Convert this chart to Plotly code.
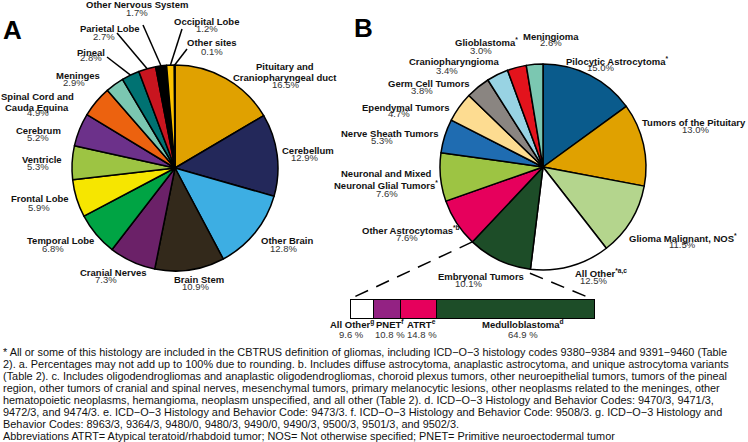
import math
import plotly.graph_objects as go

W, H = 748, 442

# ---------------- data ----------------
labels_A = ["Pituitary and<br>Craniopharyngeal duct", "Cerebellum", "Other Brain", "Brain Stem",
            "Cranial Nerves", "Temporal Lobe", "Frontal Lobe", "Ventricle", "Cerebrum",
            "Spinal Cord and<br>Cauda Equina", "Meninges", "Pineal", "Parietal Lobe",
            "Other Nervous System", "Occipital Lobe", "Other sites"]
values_A = [16.5, 12.9, 12.8, 10.9, 7.3, 6.8, 5.9, 5.3, 5.2, 4.9, 2.9, 2.8, 2.7, 1.7, 1.2, 0.1]

labels_B = ["Pilocytic Astrocytoma<sup>*</sup>", "Tumors of the Pituitary", "Glioma Malignant, NOS<sup>*</sup>",
            "All Other<sup>*a,c</sup>", "Embryonal Tumors", "Other Astrocytomas<sup>*b</sup>",
            "Neuronal and Mixed<br>Neuronal Glial Tumors<sup>*</sup>", "Nerve Sheath Tumors",
            "Ependymal Tumors", "Germ Cell Tumors", "Craniopharyngioma", "Glioblastoma<sup>*</sup>",
            "Meningioma"]
values_B = [15.0, 13.0, 11.5, 12.5, 10.1, 7.6, 7.6, 5.3, 4.7, 3.8, 3.4, 3.0, 2.6]

labels_E = ["All Other<sup>g</sup>", "PNET<sup>f</sup>", "ATRT<sup>e</sup>", "Medulloblastoma<sup>d</sup>"]
values_E = [9.6, 10.8, 14.8, 64.9]

footnote_lines = [
    "* All or some of this histology are included in the CBTRUS definition of gliomas, including ICD\u2212O\u22123 histology codes 9380\u22129384 and 9391\u22129460 (Table",
    "2). a. Percentages may not add up to 100% due to rounding. b. Includes diffuse astrocytoma, anaplastic astrocytoma, and unique astrocytoma variants",
    "(Table 2). c. Includes oligodendrogliomas and anaplastic oligodendrogliomas, choroid plexus tumors, other neuroepithelial tumors, tumors of the pineal",
    "region, other tumors of cranial and spinal nerves, mesenchymal tumors, primary melanocytic lesions, other neoplasms related to the meninges, other",
    "hematopoietic neoplasms, hemangioma, neoplasm unspecified, and all other (Table 2). d. ICD\u2212O\u22123 Histology and Behavior Codes: 9470/3, 9471/3,",
    "9472/3, and 9474/3. e. ICD\u2212O\u22123 Histology and Behavior Code: 9473/3. f. ICD\u2212O\u22123 Histology and Behavior Code: 9508/3. g. ICD\u2212O\u22123 Histology and",
    "Behavior Codes: 8963/3, 9364/3, 9480/0, 9480/3, 9490/0, 9490/3, 9500/3, 9501/3, and 9502/3.",
    "Abbreviations ATRT= Atypical teratoid/rhabdoid tumor; NOS= Not otherwise specified; PNET= Primitive neuroectodermal tumor",
]

# ---------------- styles / layout ----------------
colors_A = ["#e0a100", "#23285a", "#3daee3", "#33291b", "#6b2168", "#00a444", "#f6e600", "#9dc443",
            "#6c318a", "#ec620f", "#7bc7b1", "#007272", "#c9151f", "#000000", "#fdc300", "#ffffff"]
colors_B = ["#0a5b8c", "#e0a100", "#b4d58d", "#ffffff", "#1d4d28", "#e6005c", "#9dc443", "#1f6cb1",
            "#fddc91", "#8a8581", "#98d3e3", "#e3131c", "#7bc7b1"]
colors_E = ["#ffffff", "#932283", "#e6005c", "#1d4d28"]

FONT = "Liberation Sans, Arial, sans-serif"
NAME_SIZE = 9.5
PCT_SIZE = 9.5
LINE_GAP = 11.3
FOOT_SIZE = 10.9

# pie geometry in pixels (center x, center y, radius)
PIE_A = (175, 168, 103)
PIE_B = (543, 167, 103)

# label placement in pixels: name x, first-line y, pct x, pct y, leader start (optional)
place_A = [
    (285, 66, 285, 85, None), (308, 150, 304, 157, None), (287, 241, 283, 248, None),
    (199, 279, 195, 286, None), (113, 272, 106, 279, None), (60, 241, 53, 248, None),
    (40, 199, 39, 207, None), (42, 159, 38, 166, None), (38, 130, 38, 137, None),
    (37, 96, 38, 113, None), (78, 75, 74, 82, None), (91, 52, 91, 58, (107, 57)),
    (110, 29, 104, 36, (117, 33)), (137, 5, 137, 12, (143, 25)),
    (206, 21, 207, 28, (182, 29)), (212, 43, 212, 51, (187, 49)),
]
place_B = [
    (617, 61, 600, 67), (694, 122, 695, 129), (683, 238, 682, 244), (601, 273, 593, 280),
    (481, 276, 469, 283), (411, 230, 407, 237), (386, 174, 387, 193), (390, 133, 382, 140),
    (406, 107, 399, 114), (429, 83, 422, 91), (454, 62, 447, 70), (486, 42, 481, 50),
    (551, 36, 551, 43),
]

BAR_X = (351, 595)   # pixel extent of the expanded bar
BAR_Y = (300, 319)
PAD = 3              # pixel padding around the bar inside its axes (so outlines are not clipped)


def px(x):
    return x / W


def py(y):
    return 1 - y / H


def edge_point(pie, frac, k=1.0):
    cx, cy, r = pie
    a = 2 * math.pi * frac
    return cx + k * r * math.sin(a), cy - k * r * math.cos(a)


def pie_domain(pie):
    cx, cy, r = pie
    return dict(x=[px(cx - r), px(cx + r)], y=[py(cy + r), py(cy - r)])


fig = go.Figure()
for labels, values, colors, pie in [(labels_A, values_A, colors_A, PIE_A), (labels_B, values_B, colors_B, PIE_B)]:
    fig.add_trace(go.Pie(
        labels=[l.replace("<br>", " ") for l in labels], values=values, sort=False,
        direction="clockwise", rotation=0, textinfo="none", showlegend=False,
        marker=dict(colors=colors, line=dict(color="black", width=1.5)),
        domain=pie_domain(pie), hoverinfo="label+value",
    ))

# expanded embryonal bar (stacked)
for lab, val, col in zip(labels_E, values_E, colors_E):
    fig.add_trace(go.Bar(
        x=[val], y=[0], orientation="h", width=1,
        marker=dict(color=col, line=dict(color="black", width=1.5)),
        showlegend=False, hoverinfo="x", xaxis="x", yaxis="y",
    ))
total_E = sum(values_E)
ux = total_E / (BAR_X[1] - BAR_X[0])
uy = 1.0 / (BAR_Y[1] - BAR_Y[0])

annotations = []
shapes = []


def add_label(name, pct, nx, ny, pxx, pyy):
    for i, line in enumerate(name.split("<br>")):
        annotations.append(dict(
            x=px(nx), y=py(ny + i * LINE_GAP), xref="paper", yref="paper", text="<b>%s</b>" % line,
            showarrow=False, xanchor="center", yanchor="middle",
            font=dict(family=FONT, size=NAME_SIZE, color="#111111")))
    annotations.append(dict(
        x=px(pxx), y=py(pyy), xref="paper", yref="paper", text=pct, showarrow=False,
        xanchor="center", yanchor="middle", font=dict(family=FONT, size=PCT_SIZE, color="#333333")))


cum = 0
for lab, val, p in zip(labels_A, values_A, place_A):
    nx, ny, pxx, pyy, lead = p
    add_label(lab, "%.1f%%" % val, nx, ny, pxx, pyy)
    mid = (cum + val / 2) / sum(values_A)
    if lead is not None:
        ex, ey = edge_point(PIE_A, mid)
        shapes.append(dict(type="line", xref="paper", yref="paper", x0=px(lead[0]), y0=py(lead[1]),
                           x1=px(ex), y1=py(ey), line=dict(color="black", width=1.5)))
    cum += val

for lab, val, p in zip(labels_B, values_B, place_B):
    add_label(lab, "%.1f%%" % val, *p)

# dashed connectors from the embryonal slice to the bar
tot_B = sum(values_B)
i_emb = 4
start_frac = sum(values_B[:i_emb]) / tot_B
end_frac = sum(values_B[:i_emb + 1]) / tot_B
lx0, ly0 = edge_point(PIE_B, end_frac)
lx1, ly1 = BAR_X[0] + 1, BAR_Y[0] - 2
rx0, ry0 = edge_point(PIE_B, start_frac, 1.04)
rxc, ryc = BAR_X[1], BAR_Y[0]
rx1, ry1 = rx0 + 0.86 * (rxc - rx0), ry0 + 0.86 * (ryc - ry0)
for (a, b, c, d) in [(lx0, ly0, lx1, ly1), (rx0, ry0, rx1, ry1)]:
    shapes.append(dict(type="line", xref="paper", yref="paper", x0=px(a), y0=py(b), x1=px(c), y1=py(d),
                       line=dict(color="black", width=1.5, dash="14px,9px")))

# bar labels
cum = 0
shifts = [-11, 2, 3, 7]
for lab, val, sh in zip(labels_E, values_E, shifts):
    xc = cum + val / 2
    annotations.append(dict(x=xc, y=py(324), xref="x", yref="paper", text="<b>%s</b>" % lab,
                            showarrow=False, xanchor="center", yanchor="middle", xshift=sh,
                            font=dict(family=FONT, size=NAME_SIZE, color="#111111")))
    annotations.append(dict(x=xc, y=py(334), xref="x", yref="paper", text="%.1f %%" % val,
                            showarrow=False, xanchor="center", yanchor="middle", xshift=sh,
                            font=dict(family=FONT, size=PCT_SIZE, color="#333333")))
    cum += val

# panel letters
for letter, x, y in [("A", 1, 30), ("B", 352, 28)]:
    annotations.append(dict(x=px(x), y=py(y), xref="paper", yref="paper", text="<b>%s</b>" % letter,
                            showarrow=False, xanchor="left", yanchor="middle",
                            font=dict(family=FONT, size=26, color="black")))

# footnote
for i, line in enumerate(footnote_lines):
    annotations.append(dict(x=px(1), y=py(352 + i * 12.0), xref="paper", yref="paper", text=line,
                            showarrow=False, xanchor="left", yanchor="middle",
                            font=dict(family=FONT, size=FOOT_SIZE, color="#111111")))

fig.update_layout(
    width=W, height=H, margin=dict(l=0, r=0, t=0, b=0),
    paper_bgcolor="white", plot_bgcolor="rgba(0,0,0,0)",
    barmode="stack", bargap=0,
    xaxis=dict(domain=[px(BAR_X[0] - PAD), px(BAR_X[1] + PAD)], range=[-PAD * ux, total_E + PAD * ux],
               visible=False, fixedrange=True),
    yaxis=dict(domain=[py(BAR_Y[1] + PAD), py(BAR_Y[0] - PAD)], range=[-0.5 - PAD * uy, 0.5 + PAD * uy],
               visible=False, fixedrange=True),
    annotations=annotations, shapes=shapes,
)

fig.write_html("out.html", config={"displayModeBar": False},
               post_script="document.body.style.margin='0';document.body.style.padding='0';")
